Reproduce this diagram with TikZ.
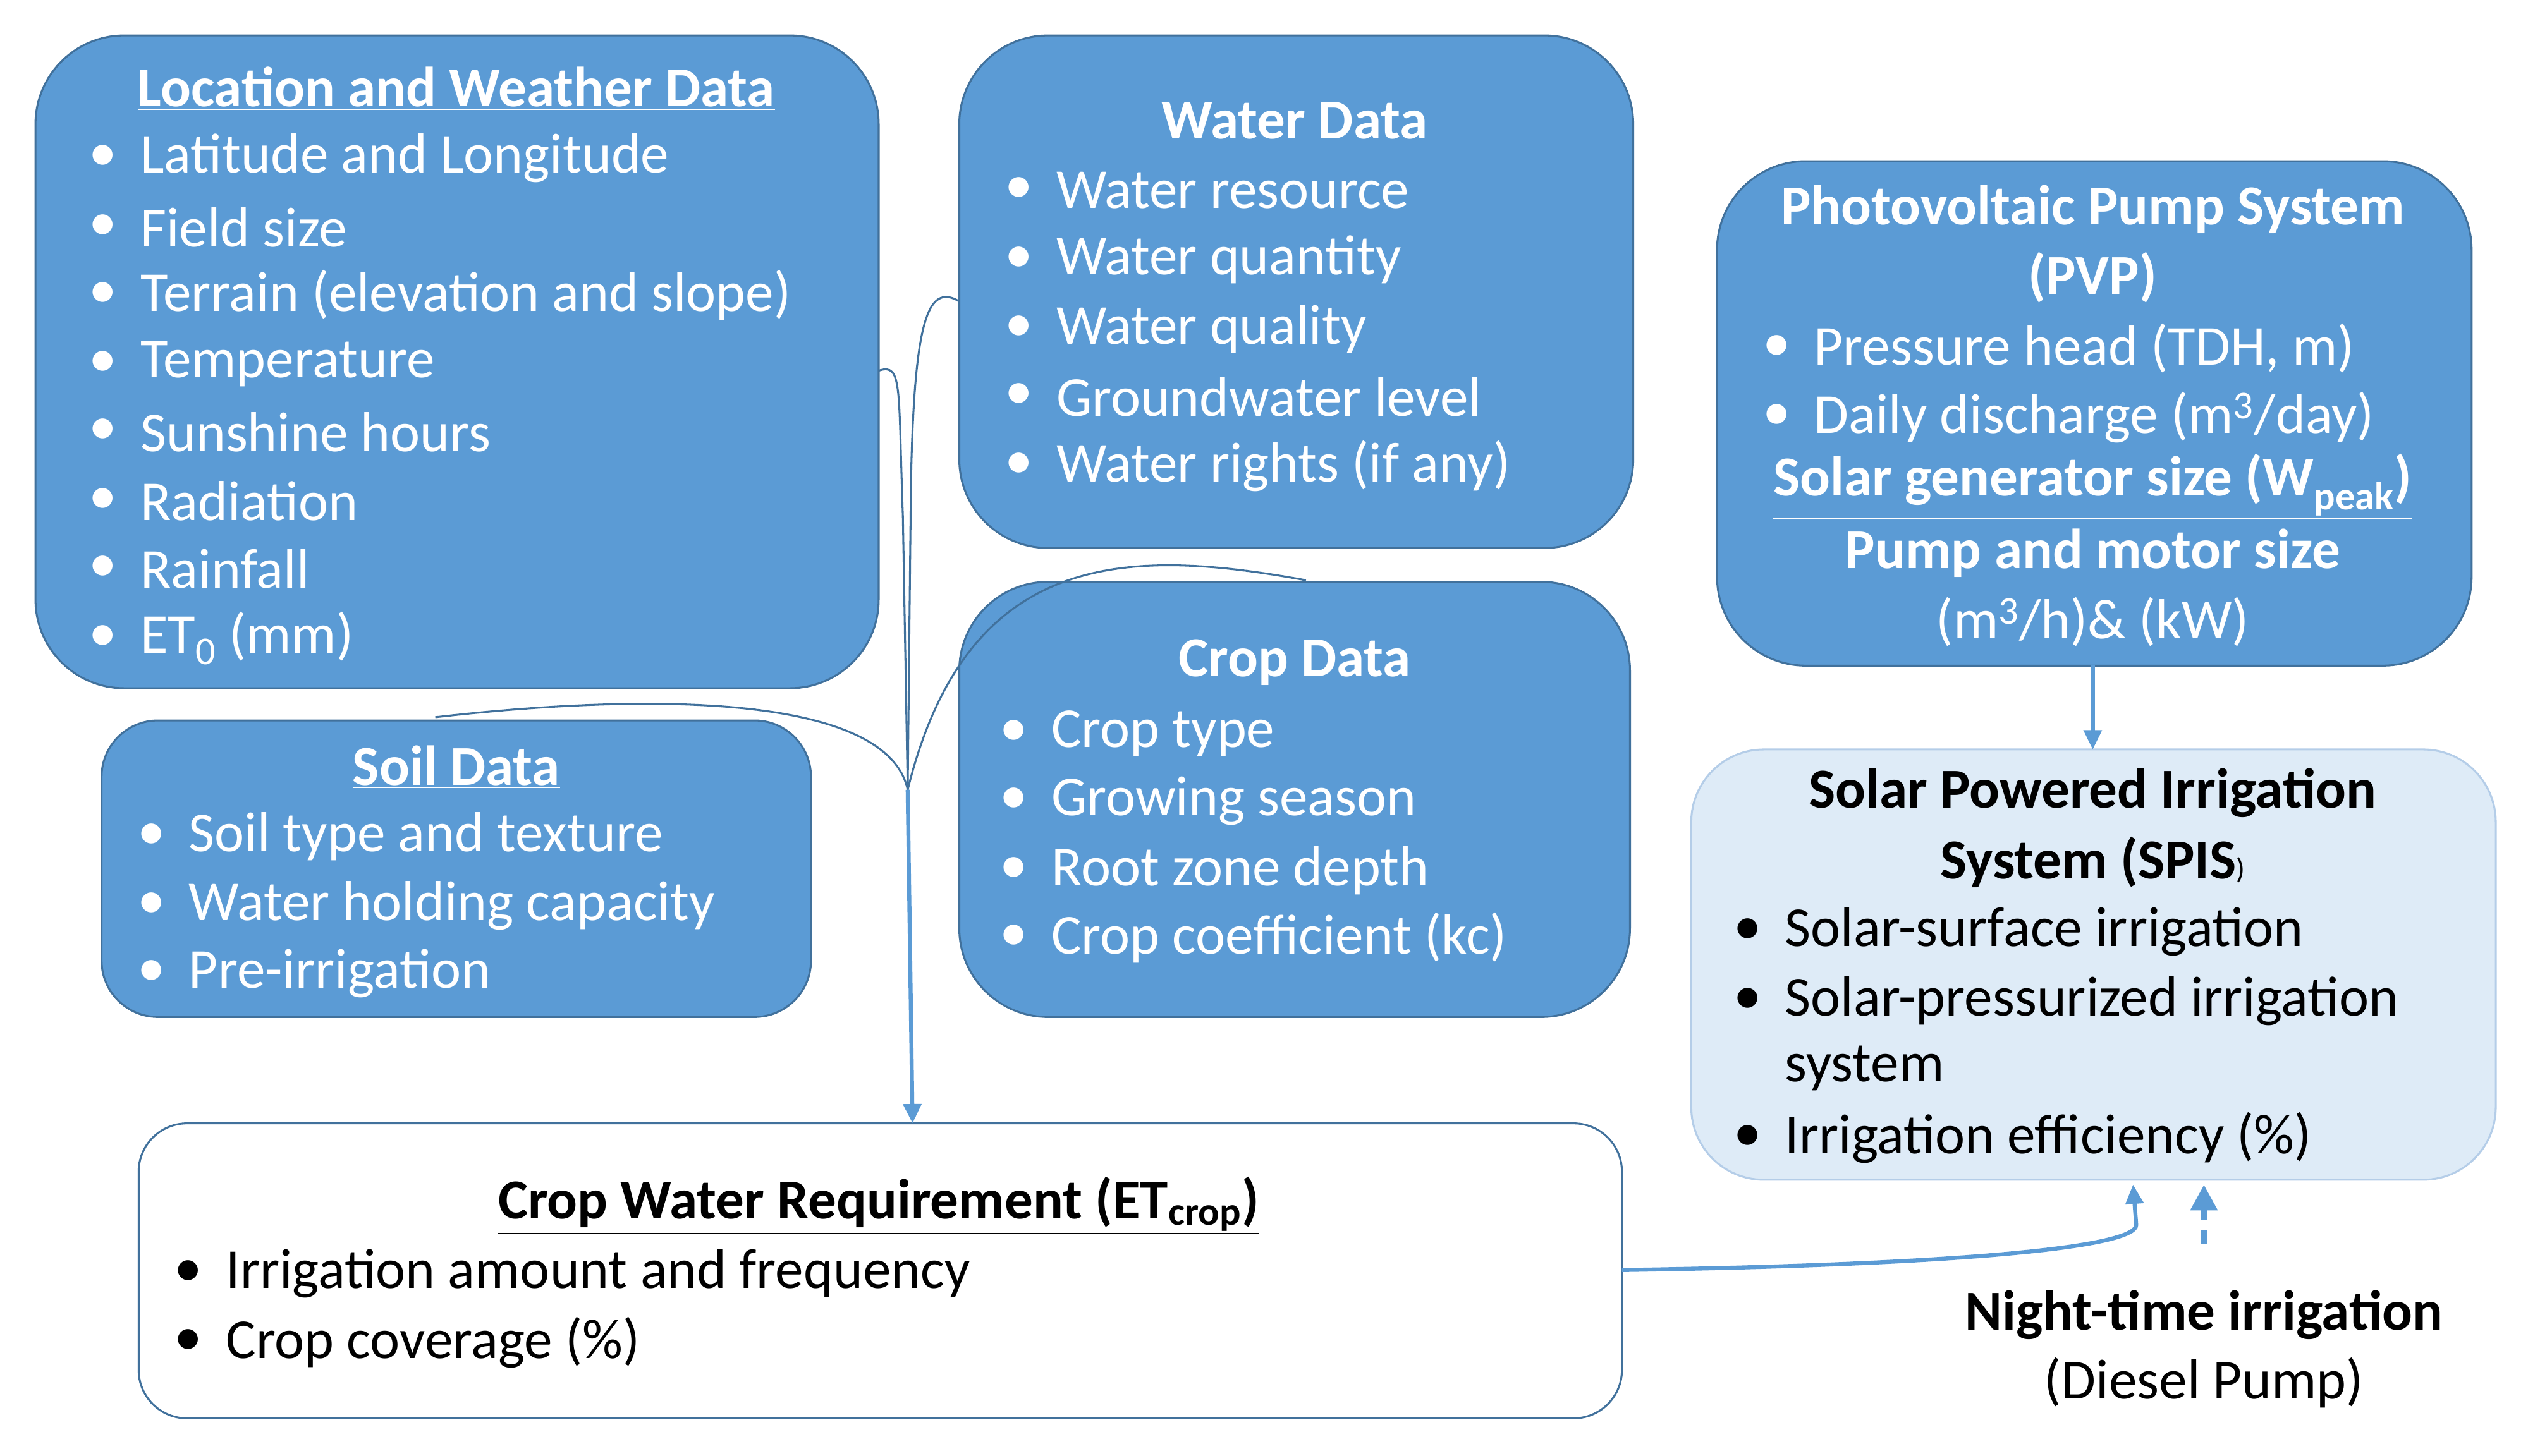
\documentclass[tikz,border=0pt]{standalone}
\usepackage{fontspec}
\setmainfont{Carlito}
\usetikzlibrary{arrows.meta}
\definecolor{bfill}{HTML}{5B9BD5}
\definecolor{bline}{HTML}{41719C}
\definecolor{lfill}{HTML}{DEEBF7}
\definecolor{lline}{HTML}{B4CDE8}
\newcommand\bitm[4][white]{\node[anchor=west,text=#1,txt] at (#2,#3) {\textbullet}; \node[anchor=west,text=#1,txt] at (#2+32,#3) {#4};}
\newcommand\ttl[4][white]{\node[text=#1,txt] at (#2,#3) {\bfseries\underline{#4}};}
\begin{document}
\begin{tikzpicture}[x=1pt,y=-1pt,
  txt/.style={inner sep=0pt,font=\fontsize{35}{40}\selectfont},
  dbox/.style={draw=bline,fill=bfill,line width=1.2pt,rounded corners=55pt},
  conn/.style={draw=bline,line width=1.2pt},
  arr/.style={draw=bfill,line width=2.5pt,-{Triangle[length=12pt,width=11pt]}}]
\useasboundingbox (0,0) rectangle (1568,903);
\path[dbox] (22,22) rectangle (545,427);
\coordinate (loc) at (545,230);
\path[dbox] (595,22) rectangle (1013,340);
\coordinate (wat) at (595,187);
\path[dbox] (1065,100) rectangle (1533,413);
\path[dbox,rounded corners=35pt] (63,447) rectangle (503,631);
\path[dbox] (595,361) rectangle (1011,631);
\path[draw=lline,fill=lfill,line width=1.2pt,rounded corners=45pt] (1049,465) rectangle (1548,732);
\path[draw=bline,fill=white,line width=1.2pt,rounded corners=30pt] (86,697) rectangle (1006,880);
\coordinate (hub) at (563,490);
\coordinate (cwrtop) at (566,697);
\coordinate (pvpb) at (1298,413);
\coordinate (spist) at (1298,465);
\coordinate (cwrr) at (1006,788);
\coordinate (spisb) at (1323,735);
\coordinate (nt) at (1367,772);
\coordinate (spisb2) at (1367,735);
% connectors
\draw[conn] (loc) .. controls (560,225) and (557,240) .. (560,320) -- (hub);
\draw[conn] (wat) .. controls (575,175) and (567,200) .. (565,300) -- (hub);
\draw[conn] (810,360) .. controls (700,340) and (600,340) .. (hub);
\draw[conn] (270,445) .. controls (400,430) and (550,430) .. (hub);
\draw[arr] (hub) -- (cwrtop);
\draw[arr] (pvpb) -- (spist);
\draw[arr] (cwrr) .. controls (1200,785) and (1325,775) .. (1325,760) -- (spisb);
\draw[draw=bfill,line width=4pt,dash pattern=on 9pt off 6pt,-{Triangle[length=16pt,width=16pt]}] (nt) -- (spisb2);
% Location
\ttl{283}{55}{Location and Weather Data}
\bitm{55}{98}{Latitude and Longitude}
\bitm{55}{141}{Field size}
\bitm{55}{183}{Terrain (elevation and slope)}
\bitm{55}{226}{Temperature}
\bitm{55}{268}{Sunshine hours}
\bitm{55}{311}{Radiation}
\bitm{55}{353}{Rainfall}
\bitm{55}{396}{ET\textsubscript{0} (mm)}
% Water
\ttl{803}{76}{Water Data}
\bitm{623}{118}{Water resource}
\bitm{623}{161}{Water quantity}
\bitm{623}{204}{Water quality}
\bitm{623}{246}{Groundwater level}
\bitm{623}{289}{Water rights (if any)}
% PVP
\ttl{1298}{131}{Photovoltaic Pump System}
\ttl{1298}{173}{(PVP)}
\bitm{1093}{216}{Pressure head (TDH, m)}
\bitm{1093}{259}{Daily discharge (m\textsuperscript{3}/day)}
\ttl{1298}{302}{Solar generator size (W\textsubscript{peak})}
\ttl{1298}{344}{Pump and motor size}
\node[txt,text=white] (pm) at (1298,386) {(m\textsuperscript{3}/h)\& (kW)};
% Soil
\ttl{283}{476}{Soil Data}
\bitm{85}{519}{Soil type and texture}
\bitm{85}{562}{Water holding capacity}
\bitm{85}{604}{Pre-irrigation}
% Crop
\ttl{803}{412}{Crop Data}
\bitm{620}{455}{Crop type}
\bitm{620}{497}{Growing season}
\bitm{620}{540}{Root zone depth}
\bitm{620}{582}{Crop coefficient (kc)}
% SPIS
\ttl[black]{1298}{493}{Solar Powered Irrigation}
\node[txt,text=black] (sp2) at (1298,536) {\textbf{\underline{System (SPIS}}{\fontsize{18}{20}\selectfont)}};
\bitm[black]{1075}{578}{Solar-surface irrigation}
\bitm[black]{1075}{621}{Solar-pressurized irrigation}
\node[txt,anchor=west] (sys) at (1107,663) {system};
\bitm[black]{1075}{706}{Irrigation efficiency (\%)}
% CWR
\ttl[black]{545}{748}{Crop Water Requirement (ET\textsubscript{crop})}
\bitm[black]{108}{790}{Irrigation amount and frequency}
\bitm[black]{108}{833}{Crop coverage (\%)}
% Night
\node[txt] (night) at (1367,816) {\bfseries Night-time irrigation};
\node[txt] (diesel) at (1367,858) {(Diesel Pump)};
\end{tikzpicture}
\end{document}
